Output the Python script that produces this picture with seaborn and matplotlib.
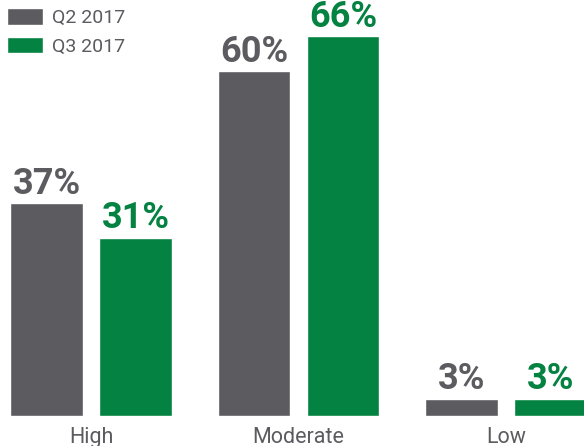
import matplotlib
matplotlib.use("Agg")
import matplotlib.pyplot as plt
import seaborn as sns
import pandas as pd

categories = ["High", "Moderate", "Low"]
series_names = ["Q2 2017", "Q3 2017"]
q2_values = [37, 60, 3]
q3_values = [31, 66, 3]
colors = ["#5b5b60", "#038241"]

df = pd.DataFrame({
    "category": categories * 2,
    "period": [series_names[0]] * 3 + [series_names[1]] * 3,
    "value": q2_values + q3_values,
})

sns.set_theme(style="white")
plt.rcParams["font.family"] = ["Roboto", "DejaVu Sans"]

W, H = 584, 446
fig = plt.figure(figsize=(W / 100, H / 100), dpi=100)
ax = fig.add_axes([0, 30 / H, 1, 416 / H])

sns.barplot(data=df, x="category", y="value", hue="period", order=categories,
            hue_order=series_names, palette=colors, width=0.858, gap=0.19,
            saturation=1, ax=ax, errorbar=None)

ax.set_xlim(-91 / 207.5, (W - 91) / 207.5)
ax.set_ylim(0, 416 / 5.75)
for s in ax.spines.values():
    s.set_visible(False)
ax.set_yticks([])
ax.set_xlabel("")
ax.set_ylabel("")
ax.tick_params(axis="x", length=0, pad=8, labelsize=15.5, labelcolor="#5b5b60")

for cont, col in zip(ax.containers, colors):
    ax.bar_label(cont, labels=[f"{int(v)}%" for v in cont.datavalues],
                 padding=1, fontsize=26, fontweight="bold", color=col)

leg = ax.legend(loc="upper left", bbox_to_anchor=(7 / W, 1 - 8 / H),
                bbox_transform=fig.transFigure, frameon=False, borderpad=0,
                borderaxespad=0, fontsize=14, handlelength=1.85,
                handleheight=0.93, handletextpad=0.46, labelspacing=0.5)
for t in leg.get_texts():
    t.set_color("#5b5b60")

fig.savefig("out.png", dpi=100)
